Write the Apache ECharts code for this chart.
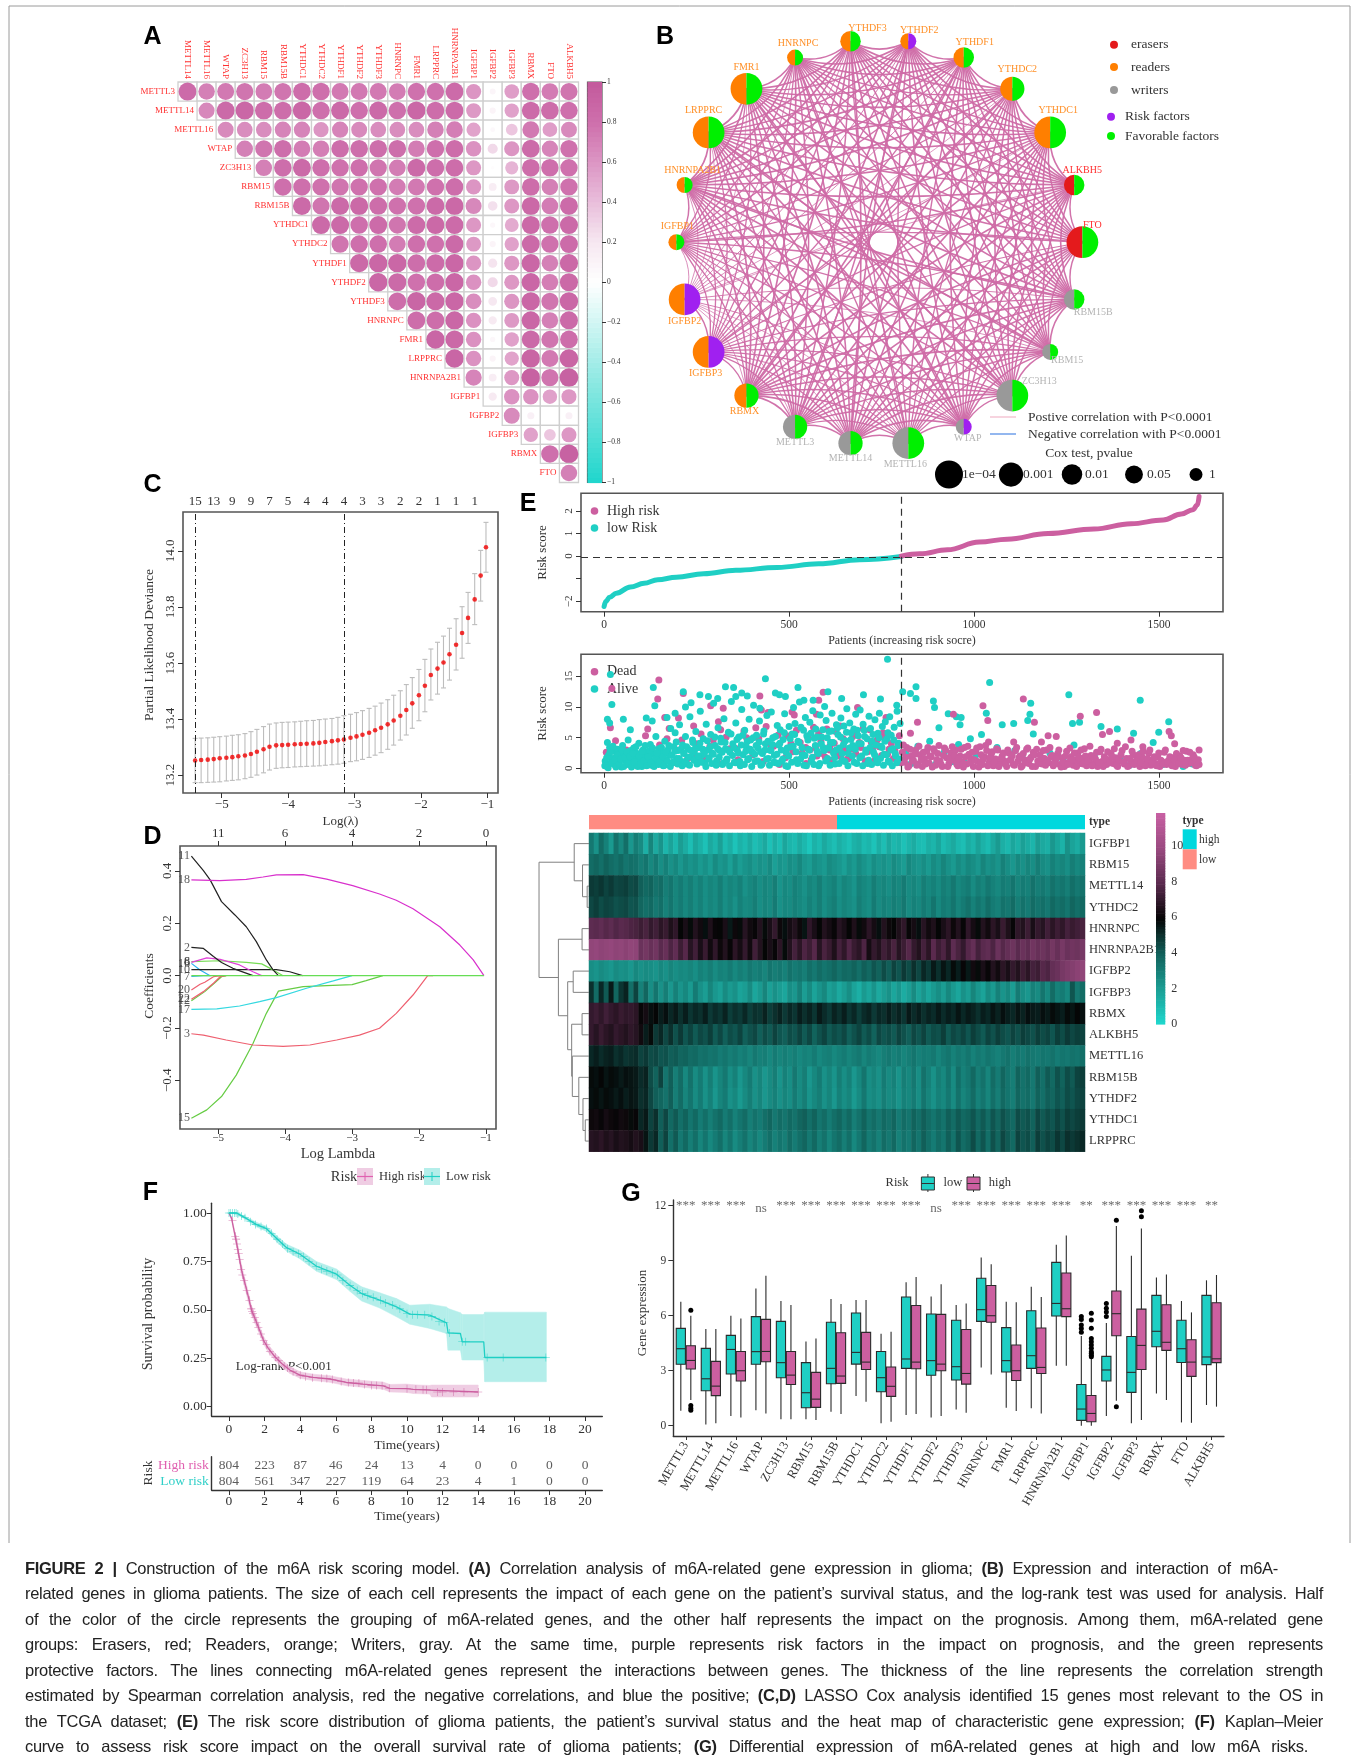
<!DOCTYPE html>
<html><head><meta charset="utf-8">
<style>
html,body{margin:0;padding:0;background:#fff}
#wrap{position:relative;width:1357px;height:1760px;overflow:hidden;filter:blur(.4px)}
#chart{position:absolute;left:0;top:0;width:1357px;height:1760px}
.cap{position:absolute;left:25px;font:16.5px/1 "Liberation Sans",sans-serif;letter-spacing:-.3px;color:#222;white-space:nowrap;text-align:justify;text-align-last:justify;transform:translateY(-50%)}
</style>
<script src="https://cdn.jsdelivr.net/npm/echarts@6/dist/echarts.min.js"></script>
</head><body><div id="wrap"><div id="chart"></div>
<div class="cap" style="top:1568px;width:1253px"><b>FIGURE 2 |</b> Construction of the m6A risk scoring model. <b>(A)</b> Correlation analysis of m6A-related gene expression in glioma; <b>(B)</b> Expression and interaction of m6A-</div>
<div class="cap" style="top:1593px;width:1298px">related genes in glioma patients. The size of each cell represents the impact of each gene on the patient’s survival status, and the log-rank test was used for analysis. Half</div>
<div class="cap" style="top:1619px;width:1298px">of the color of the circle represents the grouping of m6A-related genes, and the other half represents the impact on the prognosis. Among them, m6A-related gene</div>
<div class="cap" style="top:1644px;width:1298px">groups: Erasers, red; Readers, orange; Writers, gray. At the same time, purple represents risk factors in the impact on prognosis, and the green represents</div>
<div class="cap" style="top:1670px;width:1298px">protective factors. The lines connecting m6A-related genes represent the interactions between genes. The thickness of the line represents the correlation strength</div>
<div class="cap" style="top:1695px;width:1298px">estimated by Spearman correlation analysis, red the negative correlations, and blue the positive; <b>(C,D)</b> LASSO Cox analysis identified 15 genes most relevant to the OS in</div>
<div class="cap" style="top:1721px;width:1298px">the TCGA dataset; <b>(E)</b> The risk score distribution of glioma patients, the patient’s survival status and the heat map of characteristic gene expression; <b>(F)</b> Kaplan–Meier</div>
<div class="cap" style="top:1746px;width:1283px">curve to assess risk score impact on the overall survival rate of glioma patients; <b>(G)</b> Differential expression of m6A-related genes at high and low m6A risks.</div>
</div>
<script>
/* ===== DATA ===== */
const corrCols=['METTL14','METTL16','WTAP','ZC3H13','RBM15','RBM15B','YTHDC1','YTHDC2','YTHDF1','YTHDF2','YTHDF3','HNRNPC','FMR1','LRPPRC','HNRNPA2B1','IGFBP1','IGFBP2','IGFBP3','RBMX','FTO','ALKBH5'];
const corrRows=['METTL3','METTL14','METTL16','WTAP','ZC3H13','RBM15','RBM15B','YTHDC1','YTHDC2','YTHDF1','YTHDF2','YTHDF3','HNRNPC','FMR1','LRPPRC','HNRNPA2B1','IGFBP1','IGFBP2','IGFBP3','RBMX','FTO'];
const corrTri=[
[.84,.71,.75,.77,.73,.77,.82,.8,.75,.75,.75,.73,.79,.79,.84,.6,.09,.56,.8,.73,.77],
[.67,.85,.88,.82,.82,.88,.8,.85,.8,.85,.8,.88,.82,.84,.58,.1,.54,.84,.82,.8],
[.66,.64,.64,.69,.69,.6,.69,.66,.64,.64,.64,.71,.72,.53,.06,.36,.75,.56,.66],
[.71,.77,.81,.73,.72,.81,.81,.81,.81,.73,.8,.82,.62,.27,.6,.84,.69,.79],
[.71,.81,.85,.8,.79,.8,.77,.73,.85,.81,.82,.59,.03,.45,.82,.8,.79],
[.8,.8,.79,.77,.79,.79,.73,.75,.79,.81,.6,.16,.58,.82,.71,.79],
[.85,.77,.85,.86,.82,.79,.79,.85,.86,.67,.24,.59,.86,.73,.84],
[.85,.85,.8,.84,.77,.84,.86,.84,.59,.07,.5,.86,.8,.85],
[.77,.8,.8,.73,.8,.79,.85,.58,.1,.54,.85,.79,.84],
[.86,.88,.88,.81,.84,.88,.6,.22,.59,.88,.71,.86],
[.88,.85,.79,.82,.88,.62,.27,.59,.88,.72,.86],
[.82,.89,.86,.88,.64,.2,.6,.88,.77,.88],
[.82,.82,.88,.62,.18,.58,.88,.71,.85],
[.89,.86,.62,.07,.54,.85,.77,.82],
[.89,.62,.1,.53,.9,.75,.9],
[.69,.16,.59,.92,.77,.92],
[.18,.62,.62,.54,.59],
[.66,.13,0,.13],
[.54,.36,.59],
[.8,.92],
[.71]];
const ringGenes=['FTO','ALKBH5','YTHDC1','YTHDC2','YTHDF1','YTHDF2','YTHDF3','HNRNPC','FMR1','LRPPRC','HNRNPA2B1','IGFBP1','IGFBP2','IGFBP3','RBMX','METTL3','METTL14','METTL16','WTAP','ZC3H13','RBM15','RBM15B'];
const ringGroup=['erasers','erasers','readers','readers','readers','readers','readers','readers','readers','readers','readers','readers','readers','readers','readers','writers','writers','writers','writers','writers','writers','writers'];
const ringFactor=['fav','fav','fav','fav','fav','risk','fav','fav','fav','fav','fav','fav','risk','risk','fav','fav','fav','fav','risk','fav','fav','fav'];
const ringCoxP=[1e-5,.01,1e-5,.001,.01,.16,.01,.16,1e-5,1e-5,.16,.16,1e-5,1e-5,.001,.001,.001,1e-5,.16,1e-5,.16,.01];
const coxLegend=[['1e−04',1e-4],['0.001',1e-3],['0.01',.01],['0.05',.05],['1',1]];

const cvLambda=[-5.40,-5.31,-5.21,-5.12,-5.03,-4.93,-4.84,-4.75,-4.65,-4.56,-4.47,-4.37,-4.28,-4.18,-4.09,-4.00,-3.90,-3.81,-3.72,-3.62,-3.53,-3.44,-3.34,-3.25,-3.16,-3.06,-2.97,-2.88,-2.78,-2.69,-2.60,-2.50,-2.41,-2.31,-2.22,-2.13,-2.03,-1.94,-1.85,-1.75,-1.66,-1.57,-1.47,-1.38,-1.29,-1.19,-1.10,-1.02];
const cvMean=[13.252,13.254,13.255,13.257,13.260,13.262,13.264,13.267,13.270,13.275,13.283,13.292,13.301,13.306,13.307,13.308,13.310,13.311,13.312,13.313,13.315,13.318,13.321,13.324,13.327,13.333,13.338,13.344,13.351,13.360,13.369,13.381,13.395,13.412,13.432,13.456,13.485,13.519,13.557,13.580,13.602,13.631,13.665,13.707,13.761,13.827,13.912,14.013];
const cvUpper=[13.331,13.332,13.333,13.335,13.337,13.339,13.342,13.344,13.348,13.355,13.363,13.373,13.382,13.386,13.388,13.389,13.390,13.392,13.394,13.395,13.398,13.400,13.402,13.406,13.412,13.417,13.423,13.430,13.438,13.446,13.457,13.469,13.485,13.501,13.523,13.548,13.577,13.613,13.650,13.674,13.696,13.724,13.758,13.801,13.852,13.919,14.002,14.102];
const cvLower=[13.173,13.173,13.174,13.175,13.176,13.179,13.181,13.183,13.187,13.192,13.200,13.208,13.218,13.224,13.226,13.227,13.229,13.230,13.231,13.232,13.233,13.235,13.237,13.239,13.242,13.248,13.251,13.256,13.263,13.271,13.280,13.292,13.307,13.325,13.343,13.367,13.394,13.426,13.468,13.489,13.511,13.539,13.575,13.617,13.670,13.737,13.821,13.924];
const cvTopCounts=[15,13,9,9,7,5,4,4,4,3,3,2,2,1,1,1];
const cvLines=[-5.40,-3.16];

const path18=[[-5.40,.366],[-4.975,.363],[-4.58,.368],[-4.33,.377],[-4.13,.385],[-3.73,.386],[-3.38,.369],[-2.99,.344],[-2.59,.312],[-2.34,.288],[-2.09,.256],[-1.69,.187],[-1.39,.117],[-1.19,.06],[-1.03,0]];
const path11=[[-5.40,.457],[-5.22,.401],[-5.12,.366],[-4.95,.283],[-4.75,.232],[-4.58,.187],[-4.43,.13],[-4.28,.06],[-4.18,.022],[-4.10,0]];
const path2=[[-5.40,.108],[-5.22,.104],[-5.07,.073],[-4.95,.05],[-4.78,.028],[-4.48,0]];
const path10=[[-5.40,.023],[-4.13,.023],[-3.93,.015],[-3.74,0]];
const path6=[[-5.40,.051],[-5.17,.068],[-4.97,.062],[-4.68,.041],[-4.48,.015],[-4.35,0]];
const path8=[[-5.40,.054],[-4.97,.057],[-4.58,.051],[-4.35,.045],[-4.18,.022],[-4.03,0]];
const path16=[[-5.40,.047],[-5.27,.022],[-5.12,0]];
const path7=[[-5.40,-.003],[-5.22,0],[-5.10,0]];
const path20=[[-5.40,-.055],[-5.27,-.033],[-5.20,-.025],[-5.07,-.004],[-4.95,0]];
const path22=[[-5.40,-.09],[-5.22,-.061],[-5.07,-.029],[-4.97,-.004],[-4.88,0]];
const path12=[[-5.40,-.096],[-5.20,-.061],[-5.05,-.027],[-4.95,-.004],[-4.88,0]];
const path17=[[-5.40,-.129],[-5.02,-.127],[-4.68,-.116],[-4.38,-.099],[-4.13,-.084],[-3.68,-.048],[-3.28,-.02],[-3.0,0]];
const path3=[[-5.40,-.222],[-5.22,-.227],[-4.88,-.246],[-4.48,-.265],[-4.03,-.27],[-3.63,-.265],[-3.23,-.246],[-2.89,-.227],[-2.59,-.201],[-2.34,-.144],[-2.09,-.074],[-1.87,0],[-1.79,0]];
const path15=[[-5.40,-.545],[-5.17,-.513],[-4.95,-.462],[-4.73,-.38],[-4.48,-.259],[-4.28,-.144],[-4.10,-.059],[-3.73,-.042],[-3.38,-.038],[-3.0,-.034],[-2.79,-.019],[-2.54,0]];
const pathZero=[[-5.40,0],[-1.03,0]];

const riskLow=[[0,-2.23],[5,-2.0],[15,-1.82],[33,-1.64],[71,-1.37],[108,-1.2],[145,-1.05],[195,-.93],[269,-.78],[356,-.63],[468,-.5],[580,-.34],[691,-.16],[803,-.015]];
const riskHigh=[[803,0],[853,.1],[928,.28],[1014,.62],[1089,.75],[1200,1.0],[1324,1.2],[1424,1.43],[1511,1.6],[1560,1.86],[1591,2.05],[1604,2.27],[1608,2.64]];
const aliveTop=[[17,15.3],[21,10.4],[133,13.2],[137,10.2],[9,8],[15,7.4],[52,8],[71,6.3],[9,4.2],[114,8.2],[130,7.7],[170,8.3],[192,9],[214,12.5],[220,10],[235,10.7],[259,12],[282,11.7],[307,11.4],[328,13.3],[350,13.2],[356,11.7],[372,12.3],[387,11.8],[421,9.8],[436,14.6],[463,12.3],[474,12],[490,11.7],[524,13.2],[540,11.1],[565,11.1],[605,12.5],[642,11.4],[701,12],[747,11.3],[766,17.8],[791,10.3],[807,12.5],[828,12.2],[843,13.3],[843,11.4],[890,11],[893,9.9],[930,8.9],[952,8.4],[965,8.3],[962,7.1],[1042,14],[1033,9],[1076,7.1],[1107,7.3],[1153,10.6],[1151,8.8],[1145,7.8],[1256,12],[1266,7.3],[1285,7.5],[1449,11.1],[1526,7.6],[1343,6.8],[1387,6.4],[1431,5.7],[1499,5.9],[1484,4.2]];
const aliveMass=[[3,1.2],[8,.3],[12,2.1],[15,3.4],[18,.8],[22,1.6],[26,2.8],[30,.5],[33,1.9],[37,3.1],[40,1],[44,2.4],[47,.2],[50,3.7],[54,1.4],[58,2.2],[62,.6],[65,4.6],[68,1.1],[72,2.9],[76,.4],[80,3.3],[83,1.7],[87,2.5],[90,.9],[94,4.1],[98,1.3],[102,.3],[105,3],[109,2],[113,.7],[117,2.7],[121,1.5],[125,3.9],[128,.5],[132,2.3],[136,1.2],[140,5.2],[144,.8],[148,3.2],[152,1.8],[156,2.6],[160,.4],[164,4.4],[168,1.4],[172,3],[176,2.2],[180,6.5],[184,.9],[188,3.5],[192,5.8],[196,1.6],[200,2.9],[204,7.1],[208,1.1],[212,3.8],[216,2.4],[220,5.2],[224,.7],[228,3.1],[232,8.4],[236,1.9],[240,4.2],[244,2.7],[248,6],[252,1.3],[256,3.4],[260,9.3],[264,2.1],[268,4.8],[272,.9],[276,7.2],[280,3],[284,1.7],[288,5.5],[292,2.5],[296,10.6],[300,3.7],[304,1.2],[308,6.6],[312,2.9],[316,4.3],[320,.6],[324,8.1],[328,3.2],[332,1.5],[336,5.9],[340,2.6],[344,10.9],[348,4],[352,1],[356,7.4],[360,3],[364,5.1],[368,.4],[372,9.6],[376,2.2],[380,6.2],[384,3.6],[388,1.4],[392,8],[396,4.6],[400,2.7],[404,10.3],[408,1.1],[412,5.4],[416,3.3],[420,7.7],[424,.5],[428,2.4],[432,6.1],[436,4],[440,8.6],[444,1.6],[448,3],[452,9.2],[456,5],[460,2.1],[464,.9],[468,7],[472,3.8],[476,6.3],[480,1.2],[484,4.7],[488,8.9],[492,2.6],[496,.3],[500,6.8],[504,3.5],[508,5.6],[512,9.9],[516,7.3],[520,1.4],[524,4.4],[528,10.8],[532,6.7],[536,2.2],[540,.5],[544,8.3],[548,5.3],[552,3.1],[556,7.5],[560,1.1],[564,9.4],[568,4.9],[572,6.4],[576,2.8],[580,.4],[584,8.7],[588,5.1],[592,3.4],[596,10.1],[600,7.8],[604,1.6],[608,6],[612,4.2],[616,9],[620,2.5],[624,.7],[628,7.1],[632,5.5],[636,3.3],[640,8.2],[644,1.3],[648,6.9],[652,4.5],[656,9.7],[660,2.4],[664,7.4],[668,5.8],[672,3.7],[676,1],[680,8.8],[684,6.2],[688,4],[692,9.5],[696,2],[700,7.2],[704,5.2],[708,3],[712,.8],[716,8.5],[720,6.5],[724,4.4],[728,2.6],[732,7.9],[736,1.5],[740,5.7],[744,9],[748,3.6],[752,6.8],[756,2.3],[760,7.6],[764,4.8],[768,1.2],[772,8.4],[776,5.4],[780,3.2],[784,6.7],[788,2],[792,9.3],[796,4.1],[800,7.3],
[815,2.4],[830,.8],[848,3.6],[862,1.5],[880,4.4],[895,.6],[905,6.6],[920,2.7],[942,1.1],[958,3.9],[975,.9],[990,4.8],[1005,2.2],[1020,5.5],[1045,1.3],[1062,3.4],[1085,.7],[1110,2.9],[1130,1.7],[1160,5.6],[1175,.9],[1205,2.5],[1240,1.4],[1270,3.8],[1300,.8],[1325,2],[1360,1.1],[1395,1.8],[1420,.5],[1450,2.4],[1475,1],[1510,.6],[1540,1.6],[1565,.3],[1590,.7]];
const aliveBand=[[2,.4],[7,1.7],[11,.1],[16,2.6],[20,.9],[24,3.6],[28,1.3],[32,.2],[36,2.2],[41,.7],[45,1.5],[49,3],[53,.3],[57,1.8],[61,2.7],[66,.8],[70,1.9],[74,.2],[78,2.4],[82,1],[86,3.5],[91,.3],[95,2],[99,.7],[103,2.8],[107,1.2],[111,3.7],[115,.4],[119,1.9],[123,2.9],[127,.9],[131,3.3],[135,.3],[139,1.7],[143,2.5],[147,.6],[151,1.1],[155,3.4],[159,1.9],[163,.5],[167,2.7],[171,1.2],[175,3.7],[179,.3],[183,2.1],[187,1],[191,2.8],[195,4.3],[199,.7],[203,1.6],[207,3.1],[211,.4],[215,2.5],[219,1.1],[223,3.5],[227,1.8],[231,.5],[235,2.9],[239,4.6],[243,1.3],[247,3.3],[251,.7],[255,2],[259,4.1],[263,1],[267,3.1],[271,2.4],[275,.3],[279,4.5],[283,1.5],[287,3.5],[291,.8],[295,2.3],[299,5.1],[303,.5],[307,3.2],[311,1.8],[315,4.9],[319,2.6],[323,.9],[327,4.2],[331,1.3],[335,3],[339,.4],[343,5.6],[347,2.1],[351,3.4],[355,.9],[359,4.7],[363,2.5],[367,1.1],[371,3.8],[375,5.4],[379,.6],[383,2.8],[387,4.4],[391,1.6],[395,3.1],[399,.3],[403,5],[407,2.3],[411,3.7],[415,1.2],[419,4.3],[423,2.7],[427,.7],[431,5.6],[435,3],[439,1.5],[443,4.4],[447,.5],[451,2.9],[455,3.9],[459,1],[463,5.2],[467,2.3],[471,.8],[475,4.1],[479,3],[483,1.5],[487,5.8],[491,.4],[495,3.3],[499,2],[503,4.8],[507,1],[511,3.6],[515,5.5],[519,2.7],[523,.8],[527,4.2],[531,1.5],[535,3.4],[539,6.2],[543,2.1],[547,.4],[551,4.6],[555,3],[559,5.7],[563,1.8],[567,.6],[571,3.7],[575,5.1],[579,2.4],[583,.8],[587,4],[591,6.3],[595,2.9],[599,1.2],[603,5],[607,3.3],[611,.5],[615,6.1],[619,4.2],[623,1.7],[627,3],[631,6.6],[635,.8],[639,5.1],[643,2.4],[647,3.9],[651,1.1],[655,5.9],[659,.4],[663,3.3],[667,4.7],[671,2],[675,6.4],[679,3.1],[683,.8],[687,5.3],[691,1.7],[695,4],[699,.4],[703,6.2],[707,2.6],[711,4.8],[715,1.3],[719,3.4],[723,.6],[727,5.5],[731,2.2],[735,3.8],[739,.9],[743,5],[747,1.6],[751,3.4],[755,.5],[759,4.4],[763,2.2],[767,5.8],[771,1],[775,3],[779,.4],[783,4.6],[787,2.4],[791,.9],[795,3.7],[799,1.5]];
const deadTop=[[21,13],[148,14.4],[145,11.3],[17,6.6],[31,4.5],[112,5.3],[118,6.4],[164,8.3],[176,6.5],[201,8.2],[214,12.2],[242,6.9],[288,10.2],[322,9.8],[309,7.6],[421,11.8],[425,9.5],[443,9.1],[508,9.2],[514,8.7],[574,8.8],[592,12.4],[580,11.1],[685,9.9],[762,8.3],[847,7.5],[828,5.7],[944,8.8],[1024,10.2],[1037,7.8],[1133,11.3],[1163,7.5],[1287,8.5],[1331,9.1],[1366,6],[1347,5.5],[1527,6],[1533,5.3],[1542,4],[1608,3],[1200,5.3],[1222,5.2],[1182,4.3],[1107,4.3],[1039,4.3],[1424,4.6],[1387,4.1],[1456,3.5]];
const deadLeft=[[6,2.6],[35,1.1],[60,3],[96,2.2],[126,.6],[150,3.8],[186,.9],[210,4.6],[238,2],[262,5.6],[286,3.6],[310,.8],[330,5.1],[358,3.2],[378,6.1],[402,2.2],[418,4.8],[438,6.8],[458,3.6],[474,.6],[494,5.3],[510,2.7],[530,4.2],[546,.8],[556,3],[566,6.7],[586,4.4],[598,1.8],[610,3.6],[626,6],[634,2.2],[646,4.8],[658,1.5],[668,3.2],[682,5.5],[694,3.4],[706,1.2],[718,6.3],[726,3],[738,4.6],[750,2.1],[758,5],[770,3.1],[782,1.6],[794,3.7],[802,.9],[130,2.5],[155,1.2],[170,4.8],[195,3],[226,1.6],[250,4],[270,1.8],[295,4.6],[315,6.3],[340,3.2],[362,1.4],[385,5],[410,6.6],[430,1.1],[450,3.8],[470,5.4],[490,1.7],[505,4],[520,6.2],[535,2.5],[550,5.1],[560,1.4],[572,3.3],[580,5.7],[590,2.4],[602,6.4],[615,1.3],[622,4.1],[638,6.9],[650,3.1],[662,1.7],[672,5.2],[680,2.4],[690,4.2],[700,6.5],[712,2.7],[722,4.3],[733,1.4],[744,3.5],[754,5.8],[766,2.3],[776,4.1],[786,2.9],[798,5.3],[640,1.9],[610,3],[575,2],[545,3.4]];
const deadRight=[[806,2.6],[812,1],[818,3.4],[824,.4],[830,2],[836,1.3],[842,3],[848,.7],[854,2.2],[860,.3],[866,1.6],[872,2.8],[878,.9],[884,1.9],[890,3.2],[896,.5],[902,2.4],[908,1.2],[914,.3],[920,3.3],[926,1.7],[932,.8],[938,2.5],[944,1.3],[950,3],[956,.4],[962,2],[968,1],[974,3.4],[980,.7],[986,2.3],[992,1.5],[998,.3],[1004,2.8],[1010,1.1],[1016,3.5],[1022,.6],[1028,1.9],[1034,2.9],[1040,.9],[1046,2.2],[1052,.4],[1058,1.5],[1064,3],[1070,.8],[1076,2],[1082,1.2],[1088,.3],[1094,2.5],[1100,1.6],[1106,.6],[1112,2.9],[1118,1.1],[1124,2],[1130,.4],[1136,1.4],[1142,3.1],[1148,.8],[1154,1.8],[1160,2.6],[1166,.3],[1172,1.2],[1178,2.2],[1184,.7],[1190,1.6],[1196,3],[1202,.9],[1208,1.9],[1214,.4],[1220,1.3],[1226,2.4],[1232,.6],[1238,1.7],[1244,.3],[1250,2.8],[1256,1],[1262,1.9],[1268,.5],[1274,1.4],[1280,2.5],[1286,.8],[1292,1.6],[1298,3.2],[1304,.4],[1310,1.2],[1316,2.1],[1322,.7],[1328,1.5],[1334,.3],[1340,2.7],[1346,1.1],[1352,1.9],[1358,.6],[1364,1.4],[1370,2.4],[1376,.8],[1382,1.7],[1388,.3],[1394,1.2],[1400,2.9],[1406,.7],[1412,1.6],[1418,.4],[1424,1.1],[1430,2.2],[1436,.9],[1442,1.5],[1448,.3],[1454,1.9],[1460,.7],[1466,1.2],[1472,2.5],[1478,.5],[1484,1.4],[1490,.8],[1496,1.9],[1502,.3],[1508,1.1],[1514,2.6],[1520,.6],[1526,1.3],[1532,.9],[1538,1.7],[1544,.3],[1550,1.2],[1556,2],[1562,.6],[1568,1.3],[1574,2.8],[1580,.8],[1586,1.4],[1592,2.2],[1598,.5],[1604,1.1],[1608,.6]];
const deadBand=[[809,3.8],[815,1.8],[821,.2],[827,3.1],[833,1.2],[839,2.3],[845,.5],[851,3.6],[857,1.4],[863,2.6],[869,.7],[875,3.4],[881,2],[887,.2],[893,2.8],[899,1.4],[905,3.7],[911,.6],[917,2.1],[923,3],[929,.3],[935,1.5],[941,3.5],[947,2.1],[953,.7],[959,1.6],[965,3.1],[971,.2],[977,1.9],[983,3.6],[989,.9],[995,2.6],[1001,1.4],[1007,3.3],[1013,.2],[1019,2.2],[1025,1.5],[1031,3.7],[1037,.4],[1043,1.7],[1049,2.7],[1055,1],[1061,3.2],[1067,.3],[1073,1.6],[1079,2.5],[1085,.7],[1091,3],[1097,1.3],[1103,2.1],[1109,.5],[1115,3.4],[1121,1.7],[1127,.2],[1133,2.4],[1139,.9],[1145,3.3],[1151,1.5],[1157,.3],[1163,2.2],[1169,3.1],[1175,.8],[1181,1.7],[1187,2.9],[1193,.5],[1199,1.3],[1205,3.4],[1211,2.1],[1217,.7],[1223,1.7],[1229,3],[1235,.2],[1241,1],[1247,2],[1253,.6],[1259,3.3],[1265,1.4],[1271,2.5],[1277,.3],[1283,1.8],[1289,3],[1295,.7],[1301,2],[1307,1.2],[1313,3.6],[1319,.4],[1325,1.7],[1331,2.6],[1337,1],[1343,3.1],[1349,.3],[1355,1.5],[1361,2.7],[1367,.9],[1373,1.9],[1379,3.2],[1385,.5],[1391,1.4],[1397,2.2],[1403,1],[1409,3.5],[1415,.3],[1421,1.6],[1427,2.8],[1433,.6],[1439,1.3],[1445,2.2],[1451,.9],[1457,2.8],[1463,.4],[1469,1.6],[1475,3],[1481,1],[1487,1.9],[1493,.4],[1499,2.5],[1505,1.3],[1511,.7],[1517,3],[1523,1.1],[1529,1.9],[1535,.4],[1541,1.4],[1547,2.4],[1553,.8],[1559,1.7],[1565,2.9],[1571,.5],[1577,1.3],[1583,2.6],[1589,.9],[1595,1.8],[1601,.4],[1606,1.4]];

const heatGenes=['IGFBP1','RBM15','METTL14','YTHDC2','HNRNPC','HNRNPA2B1','IGFBP2','IGFBP3','RBMX','ALKBH5','METTL16','RBM15B','YTHDF2','YTHDC1','LRPPRC'];
/* expression ×10, read along each row in 100 patient groups */
const hIGFBP1=[32,24,36,29,21,34,27,35,22,30,26,14,28,16,23,12,18,11,20,15,9,17,13,8,16,12,19,10,14,7,13,10,15,9,12,16,8,14,9,17,12,10,15,11,6,13,10,16,12,9,14,11,8,13,15,10,12,7,14,9,16,11,13,8,12,15,10,9,14,12,17,10,13,16,11,9,15,12,18,13,10,16,21,14,11,17,13,19,15,12,20,16,14,22,17,13,24,18,15,21];
const hRBM15=[36,38,35,39,36,34,37,33,35,34,30,33,27,31,25,29,24,27,22,26,23,25,21,24,20,26,22,24,19,25,20,23,25,21,24,22,26,19,23,21,25,23,27,22,20,25,23,21,26,24,22,19,24,21,26,23,20,25,22,24,21,26,23,20,27,24,22,25,21,26,23,28,24,21,26,23,27,25,22,28,24,26,23,29,25,22,27,24,28,25,30,26,24,29,26,28,25,30,27,29];
const hMETTL14=[48,47,49,46,48,45,46,47,44,45,40,37,39,34,36,30,33,28,31,27,30,26,29,25,28,26,30,25,28,26,29,24,27,29,25,28,26,30,23,27,25,29,27,24,28,26,30,25,27,29,24,28,26,23,29,27,25,30,26,28,25,29,27,31,26,28,25,30,27,29,26,30,28,32,27,29,31,26,30,28,32,29,27,31,29,33,28,31,29,34,30,32,29,34,31,33,30,35,32,34];
const hYTHDC2=[45,47,44,46,45,43,44,45,42,43,38,35,37,32,35,29,33,28,31,27,30,26,29,25,28,26,30,25,28,24,29,26,27,30,25,28,26,31,24,27,26,29,27,25,29,26,30,25,28,30,25,28,26,24,30,27,25,31,26,29,27,30,28,32,26,29,27,31,28,33,27,31,29,33,28,31,34,29,33,30,35,31,29,34,32,36,30,34,31,36,33,35,32,37,34,36,33,38,35,37];
const hHNRNPC=[80,79,81,78,80,77,79,78,76,75,72,75,70,73,68,71,65,69,59,64,58,66,62,57,65,60,59,64,55,61,58,67,62,60,66,58,64,70,61,57,63,66,61,56,69,64,59,66,63,60,67,64,59,65,58,62,68,63,57,66,61,59,65,69,60,63,57,67,62,65,59,64,68,61,66,60,69,63,58,66,62,68,64,71,65,60,69,66,72,64,70,67,73,68,72,69,74,71,73,75];
const hHNRNPA2B1=[96,97,95,96,97,95,96,94,96,95,84,87,83,86,79,83,76,81,72,78,67,73,64,71,62,69,61,66,60,68,63,70,62,73,66,59,64,60,68,58,66,74,68,76,72,78,67,75,71,65,74,69,77,71,68,76,63,70,66,73,69,75,67,72,78,70,66,74,68,79,72,76,69,80,75,70,78,82,74,79,81,76,84,78,82,85,79,84,81,86,83,85,82,87,83,88,84,86,85,88];
const hIGFBP2=[25,23,26,24,22,26,24,25,22,27,24,26,25,23,27,24,28,25,27,26,28,25,29,27,30,26,29,28,31,27,30,28,32,29,31,28,33,30,32,29,34,31,33,30,35,32,36,33,35,38,34,37,36,39,35,40,37,42,39,44,40,46,42,48,44,50,45,52,48,55,50,56,52,58,54,60,55,62,58,64,60,66,62,68,64,70,66,72,68,74,72,78,76,82,84,88,90,92,94,96];
const hIGFBP3=[50,36,52,41,55,38,49,53,35,46,29,38,25,33,24,30,22,29,23,27,21,31,24,20,28,22,19,26,21,24,18,20,26,17,21,28,19,24,20,17,25,22,29,20,26,18,23,27,19,22,16,20,25,18,14,21,17,23,16,20,24,17,22,15,19,26,18,23,17,21,25,20,27,21,17,24,20,28,22,18,26,21,29,23,27,20,31,25,22,29,26,33,27,36,29,31,27,42,32,36];
const hRBMX=[70,72,69,73,70,68,71,69,70,68,60,63,57,59,54,57,52,55,50,54,49,52,50,54,48,51,49,53,47,50,48,52,47,50,49,53,47,50,53,48,52,49,54,50,53,49,55,51,48,53,50,54,49,52,47,51,53,48,52,50,54,50,53,49,55,51,54,50,53,51,55,51,54,52,56,52,55,53,50,54,52,56,53,57,54,52,56,53,57,55,54,57,55,58,56,54,58,56,59,57];
const hALKBH5=[70,67,71,68,66,70,68,66,69,67,62,54,58,48,52,45,50,43,48,42,46,41,45,43,47,41,45,40,44,42,46,40,43,45,40,44,41,46,42,40,44,42,46,41,45,39,43,46,41,44,42,45,40,43,46,41,44,39,45,42,44,41,46,43,40,45,42,46,41,44,43,47,41,45,43,46,42,47,44,41,46,43,47,44,42,46,43,47,45,43,47,44,46,42,47,44,48,45,47,46];
const hMETTL16=[52,54,51,53,54,50,52,49,50,51,46,48,44,45,42,43,40,41,38,39,36,37,34,35,33,34,31,33,30,32,29,31,28,32,29,30,27,31,28,30,28,30,27,29,28,31,27,29,30,27,29,31,28,30,32,28,31,29,27,30,32,29,31,28,30,33,29,31,30,32,28,31,33,29,32,30,33,29,32,30,33,31,29,32,34,30,33,31,34,32,31,33,32,34,31,33,32,34,33,35];
const hRBM15B=[58,57,59,56,58,57,55,57,56,55,51,53,44,39,46,33,40,30,36,27,34,26,31,24,30,23,28,32,25,29,22,27,31,24,28,22,26,30,23,29,25,32,26,30,22,27,31,24,28,23,30,25,29,22,27,33,25,28,24,31,26,29,23,30,27,32,25,34,29,24,30,27,33,26,35,29,32,37,30,34,28,36,31,38,33,30,39,34,37,32,40,35,41,37,43,39,44,41,46,47];
const hYTHDF2=[57,58,56,58,57,55,57,54,56,55,50,52,45,40,38,34,40,30,36,28,33,26,31,24,29,22,28,31,24,27,21,26,30,24,28,22,26,29,24,28,25,31,26,30,23,27,30,24,28,22,29,25,28,21,26,32,25,27,24,30,26,28,23,29,27,31,25,33,28,24,29,27,32,26,34,28,31,36,29,33,28,35,30,37,33,30,38,34,36,32,39,35,40,38,42,40,44,42,45,46];
const hYTHDC1=[61,62,60,63,61,60,62,61,58,60,52,55,46,50,40,45,37,41,35,39,33,37,31,35,30,34,37,31,35,29,33,36,30,34,31,35,38,32,36,33,37,34,38,40,35,39,33,36,31,35,38,33,37,30,34,39,33,36,32,37,34,38,31,36,33,39,35,40,36,33,37,34,40,36,41,37,39,42,37,41,36,42,38,43,40,37,44,41,43,39,45,41,44,42,46,43,47,45,47,48];
const hLRPPRC=[67,66,68,65,67,64,66,65,63,66,64,56,48,52,40,46,35,41,32,37,30,35,28,33,27,31,35,28,33,26,30,34,28,32,27,31,35,29,33,30,36,31,35,38,32,37,30,34,28,33,36,30,35,27,32,38,31,34,29,36,32,37,29,34,31,38,33,40,35,31,36,33,40,34,42,36,39,44,37,42,35,43,38,45,41,37,46,42,44,40,47,43,46,44,49,45,50,48,50,52];
const heatRows=[hIGFBP1,hRBM15,hMETTL14,hYTHDC2,hHNRNPC,hHNRNPA2B1,hIGFBP2,hIGFBP3,hRBMX,hALKBH5,hMETTL16,hRBM15B,hYTHDF2,hYTHDC1,hLRPPRC];
const typeCounts=[['low',804],['high',804]];
/* merges: row position A, row position B, height, height of child A, height of child B */
const dendroMerges=[[2,3,.036,0,0],[1,2.5,.127,0,.036],[0,1.75,.29,0,.127],[4,5,.136,0,0],[6,7,.31,0,0],[8,9,.136,0,0],[13,14,.073,0,0],[12,13.5,.118,0,.073],[11,12.75,.2,0,.118],[10,11.9,.327,0,.2],[8.5,10.95,.34,.136,.327],[6.5,9.7,.418,.31,.34],[4.5,8.1,.6,.136,.418],[.875,6.3,.98,.29,.6]];

/* t, S, upper, lower */
const kmHigh=[[0,1,1,1],[.15,.971,.98,.96],[.34,.885,.90,.87],[.52,.799,.82,.78],[.71,.704,.73,.68],[.9,.636,.66,.61],[1.09,.567,.59,.54],[1.27,.498,.52,.475],[1.46,.455,.48,.43],[1.65,.412,.435,.39],[1.93,.344,.365,.325],[2.21,.301,.32,.28],[2.58,.258,.277,.24],[2.96,.223,.242,.205],[3.42,.189,.207,.172],[3.99,.163,.18,.147],[4.73,.151,.168,.135],[5.67,.143,.16,.126],[6.6,.125,.143,.108],[7.54,.117,.135,.1],[8.66,.108,.127,.09],[9.04,.095,.115,.076],[9.97,.093,.117,.073],[10.35,.089,.113,.068],[11.28,.086,.11,.065],[11.38,.076,.112,.05],[14,.076,.112,.05]];
const kmLow=[[0,1,1,1],[.43,1,1,.997],[.99,.971,.979,.962],[1.55,.94,.952,.928],[2.11,.919,.931,.905],[2.68,.868,.883,.851],[3.24,.821,.838,.802],[3.99,.787,.808,.763],[4.92,.725,.749,.699],[6.04,.684,.711,.656],[6.79,.627,.658,.596],[7.45,.584,.619,.546],[8.47,.55,.588,.509],[9.41,.515,.558,.464],[10.16,.478,.524,.426],[11.28,.473,.529,.404],[12.22,.433,.515,.378],[12.31,.381,.507,.292],[13,.378,.485,.292],[13.1,.335,.476,.241],[14.31,.335,.476,.241],[14.37,.254,.488,.129],[17.83,.254,.488,.129]];
const censorHigh=[[.2,.96],[.35,.88],[.4,.865],[.45,.84],[.5,.81],[.55,.79],[.6,.76],[.68,.71],[.75,.68],[.85,.65],[1.0,.6],[1.15,.55],[1.25,.505],[1.3,.49],[1.35,.48],[1.45,.46],[1.55,.435],[1.65,.41],[1.8,.375],[1.95,.34],[2.1,.32],[2.3,.285],[2.6,.255],[2.8,.24],[3.1,.21],[3.3,.2],[3.6,.18],[4.0,.163],[4.3,.155],[4.7,.15],[5.2,.147],[5.5,.145],[5.8,.14],[6.3,.13],[6.7,.125],[7,.122],[7.3,.122],[7.6,.115],[8.0,.11],[8.3,.11],[8.6,.108],[9.0,.095],[10,.093],[10.5,.09],[10.9,.088],[11.1,.088],[11.7,.076],[12,.076],[12.6,.076],[13.2,.076],[14,.076]];
const censorLow=[[0,1],[.1,1],[.2,1],[.3,1],[.4,1],[.5,.995],[.7,.985],[.9,.975],[1.2,.955],[1.5,.94],[1.8,.93],[2.1,.92],[2.4,.895],[2.7,.865],[3,.84],[3.3,.815],[3.6,.8],[3.9,.79],[4.2,.775],[4.5,.75],[4.9,.725],[5.2,.71],[5.5,.7],[5.8,.69],[6.1,.68],[6.4,.65],[6.8,.625],[7.2,.6],[7.5,.585],[7.8,.575],[8.1,.565],[8.5,.55],[8.8,.535],[9.2,.525],[9.6,.505],[10,.48],[10.3,.475],[10.6,.475],[11,.475],[11.4,.465],[11.8,.44],[12.1,.435],[12.4,.38],[13.1,.335],[13.3,.335],[14.5,.254],[15.4,.254],[17.8,.254]];
const atRiskTimes=[0,2,4,6,8,10,12,14,16,18,20];
const atRiskHigh=[804,223,87,46,24,13,4,0,0,0,0];
const atRiskLow=[804,561,347,227,119,64,23,4,1,0,0];

const boxGenes=['METTL3','METTL14','METTL16','WTAP','ZC3H13','RBM15','RBM15B','YTHDC1','YTHDC2','YTHDF1','YTHDF2','YTHDF3','HNRNPC','FMR1','LRPPRC','HNRNPA2B1','IGFBP1','IGFBP2','IGFBP3','RBMX','FTO','ALKBH5'];
const boxSig=['***','***','***','ns','***','***','***','***','***','***','ns','***','***','***','***','***','**','***','***','***','***','**'];
/* min, Q1, median, Q3, max */
const boxLow=[[.82,3.35,4.2,5.31,6.76],[.07,1.91,2.56,4.22,5.27],[.53,2.82,4.16,4.93,6.0],[.85,3.35,4.04,5.95,7.49],[.35,2.62,3.44,5.69,6.8],[.35,.98,1.8,3.44,4.6],[.76,2.29,3.13,5.64,6.91],[1.62,3.36,4.0,6.15,6.85],[.13,1.85,2.62,4.05,5.02],[.58,3.13,3.64,7.02,7.82],[.45,2.75,3.55,6.09,7.05],[.89,2.49,3.22,5.75,6.58],[3.18,5.69,6.33,8.04,9.18],[.98,2.93,3.55,5.35,6.76],[.95,3.13,3.82,6.27,7.58],[3.27,5.98,6.67,8.91,9.87],[0,.29,.91,2.25,4.9],[.53,2.44,3.04,3.78,5.6],[.13,1.82,2.91,4.87,9.27],[1.76,4.31,5.15,7.11,8.09],[.18,3.45,4.2,5.75,6.8],[1.13,3.33,3.75,7.11,7.93]];
const boxHigh=[[1.4,3.09,3.56,4.36,6.0],[.13,1.64,2.16,3.51,5.27],[.45,2.44,3.0,4.05,5.85],[.67,3.49,4.05,5.8,8.18],[.36,2.25,2.76,4.05,6.58],[.31,1.0,1.45,2.91,4.76],[.64,2.31,2.71,5.07,6.64],[1.31,3.07,3.47,5.09,6.85],[.22,1.6,2.15,3.2,5.13],[.64,3.11,3.47,6.56,8.11],[.53,3.0,3.36,6.07,7.71],[.71,2.27,2.85,5.25,6.67],[2.8,5.64,6.0,7.65,8.8],[.8,2.47,3.0,4.4,6.73],[.67,2.85,3.18,5.33,7.02],[3.27,5.95,6.38,8.33,10.38],[0,.22,.67,1.65,3.7],[1.36,4.91,6.11,7.35,10.89],[.31,3.07,4.38,6.36,10.76],[1.4,4.11,4.55,6.6,8.25],[.16,2.69,3.47,4.69,6.18],[1.04,3.44,3.65,6.71,8.22]];
/* gene index, value */
const outLow=[[16,5.1],[16,5.3],[16,5.5],[16,5.8],[16,5.95],[17,5.95],[17,6.2],[17,6.4],[17,6.67]];
const outHigh=[[0,6.3],[0,.85],[0,.95],[0,1.1],[16,6.13],[16,5.76],[16,5.31],[16,4.76],[16,4.58],[16,4.4],[16,4.22],[16,4.04],[16,3.95],[16,3.85],[16,3.76],[17,11.2],[17,1.04],[18,11.73],[18,11.4]];

/* ===== STYLE ===== */
const PINK='#CC5FA0',TEAL='#1FCFC4',INK='#333';
const SERIF='"Liberation Serif",serif';
const hex=c=>[1,3,5].map(i=>parseInt(c.substr(i,2),16));
function ramp(stops,v){for(let i=1;i<stops.length;i++){if(v<=stops[i][0]||i===stops.length-1){const[a,ca]=stops[i-1],[b,cb]=stops[i];const t=Math.max(0,Math.min(1,(v-a)/(b-a)));const A=hex(ca),B=hex(cb);return 'rgb('+A.map((x,k)=>Math.round(x+(B[k]-x)*t)).join(',')+')';}}}
const corrStops=[[-1,'#1FD6CC'],[-.5,'#8CE8E2'],[0,'#FFFFFF'],[.2,'#F6E8F1'],[.4,'#E9BEDB'],[.6,'#DC95C3'],[.8,'#CE6FAC'],[1,'#C35A9C']];
const heatStopsList=['#1ED8CE','#1B9E94','#11615B','#050505','#5A2A4E','#9A4A80','#C860A3'];
const heatMax=11.85;
const heatStops=heatStopsList.map((c,i)=>[i/6*heatMax,c]);
const groupColor={erasers:'#E41A1C',readers:'#FF7F00',writers:'#999999'};
const labelColor={erasers:'#FF3030',readers:'#FF9028',writers:'#B4B4B4'};
const factorColor={risk:'#A020F0',fav:'#00F000'};
const coxSize=p=>13-3.75*Math.log10(p);
const minus=v=>String(v).replace('-','\u2212');

/* ===== BUILDERS ===== */
const grids=[],xAxes=[],yAxes=[],series=[],graphic=[];
function addGrid(l,t,r,b,border){grids.push({left:l,top:t,width:r-l,height:b-t,show:!!border,borderColor:'#555',borderWidth:border||0,backgroundColor:'transparent'});return grids.length-1;}
function vAxis(g,pos,min,max,ticks,o){o=o||{};return {type:'value',gridIndex:g,position:pos,min,max,inverse:!!o.inverse,show:o.hide?false:true,
 axisLine:{show:!!o.line,onZero:false,lineStyle:{color:INK,width:1.4}},
 axisTick:{show:ticks.length>0&&!o.noTick,customValues:ticks,length:o.tick||5,lineStyle:{color:INK,width:1}},
 axisLabel:{show:ticks.length>0&&!o.noLabel,customValues:ticks,fontSize:o.size||12,color:o.color||INK,rotate:o.rotate||0,margin:o.margin||6,formatter:o.fmt||minus,fontFamily:SERIF},
 splitLine:{show:false},name:o.name,nameLocation:'middle',nameGap:o.gap||30,nameTextStyle:{fontSize:o.nameSize||13,color:INK,fontFamily:SERIF}};}
function panel(g,xa,ya){xAxes.push(xa);yAxes.push(ya);return {x:xAxes.length-1,y:yAxes.length-1,g};}
function on(p,s){s.xAxisIndex=p.x;s.yAxisIndex=p.y;s.animation=false;series.push(s);return s;}
function T(x,y,text,o){o=o||{};graphic.push({type:'text',x,y,rotation:o.rot||0,silent:true,style:{text,fill:o.color||INK,fontSize:o.size||13,fontFamily:o.font||SERIF,fontWeight:o.weight||'normal',align:o.align||'left',verticalAlign:'middle',rich:o.rich}});}
function dot(x,y,r,color){graphic.push({type:'circle',silent:true,shape:{cx:x,cy:y,r},style:{fill:color}});}
function box(x,y,w,h,fill){graphic.push({type:'rect',silent:true,shape:{x,y,width:w,height:h},style:{fill}});}
function seg(x1,y1,x2,y2,color,w){graphic.push({type:'line',silent:true,shape:{x1,y1,x2,y2},style:{stroke:color,lineWidth:w||1}});}
function colorbar(l,t,r,b,min,max,ticks,stops,o){
 const g=addGrid(l,t,r,b,o.border||0);
 const p=panel(g,vAxis(g,'bottom',0,1,[],{hide:true}),vAxis(g,'right',min,max,ticks,{size:o.size,tick:o.tick,margin:o.margin,noTick:o.noTick,fmt:o.fmt}));
 const levels=[];const N=80;for(let i=0;i<N;i++)levels.push([0,min+i*(max-min)/N,min+(i+1)*(max-min)/N]);
 on(p,{type:'custom',silent:true,data:levels,encode:{x:0,y:1},renderItem:(ps,api)=>{const a=api.coord([0,api.value(1)]),c=api.coord([1,api.value(2)]);return {type:'rect',shape:{x:a[0],y:c[1],width:c[0]-a[0],height:a[1]-c[1]+.6},style:{fill:ramp(stops,(api.value(1)+api.value(2))/2)}};}});
}
function marks(p,rows,o){on(p,{type:'scatter',silent:true,symbolSize:1,itemStyle:{color:'transparent'},data:rows,z:o.z||5,label:{show:true,position:o.pos||'inside',distance:o.dist||1,color:o.color||INK,fontSize:o.size||12,fontFamily:SERIF,formatter:q=>q.value[2]}});}

/* ===== A: correlation ===== */
{
 const g=addGrid(178,82,578.5,482.5);
 const p=panel(g,
  {type:'category',gridIndex:g,position:'top',data:corrCols,axisLine:{show:false},axisTick:{show:false},axisLabel:{interval:0,rotate:90,fontSize:9,color:'#FF3030',margin:3,fontFamily:SERIF},splitLine:{show:false}},
  {type:'category',gridIndex:g,inverse:true,data:corrRows,axisLine:{show:false},axisTick:{show:false},axisLabel:{show:false},splitLine:{show:false}});
 const cells=[];corrTri.forEach((row,i)=>row.forEach((v,k)=>cells.push([i+k,i,v])));
 on(p,{type:'custom',silent:true,data:cells,encode:{x:0,y:1},renderItem:(ps,api)=>{
  const c=api.coord([api.value(0),api.value(1)]),s=api.size([1,1]),v=api.value(2);
  const kids=[{type:'rect',shape:{x:c[0]-s[0]/2,y:c[1]-s[1]/2,width:s[0],height:s[1]},style:{fill:'#fff',stroke:'#CFCFCF',lineWidth:1.3}},
   {type:'circle',shape:{cx:c[0],cy:c[1],r:9.8*Math.sqrt(Math.abs(v))},style:{fill:ramp(corrStops,v)}}];
  if(api.value(0)===api.value(1))kids.push({type:'text',style:{x:c[0]-s[0]/2-3,y:c[1],text:corrRows[api.value(1)],fill:'#FF3030',fontSize:9,fontFamily:SERIF,align:'right',verticalAlign:'middle'}});
  return {type:'group',children:kids};}});
 colorbar(587.5,82,602,482.5,-1,1,[-1,-.8,-.6,-.4,-.2,0,.2,.4,.6,.8,1],corrStops,{border:1.2,size:7.5,tick:4,margin:5,fmt:v=>minus(+v.toFixed(1))});
}

/* ===== B: network ===== */
const bPolar={center:[879.4,242.2],radius:203};
const lookup={};corrTri.forEach((row,i)=>row.forEach((v,k)=>{const a=corrRows[i],b=corrCols[i+k];lookup[a+'|'+b]=v;lookup[b+'|'+a]=v;}));
const bEdges=[];const nRing=ringGenes.length;
for(let i=0;i<nRing;i++)for(let j=i+1;j<nRing;j++){const r=lookup[ringGenes[i]+'|'+ringGenes[j]];if(r>.05)bEdges.push([1,i/nRing*360,1,j/nRing*360,r,j-i]);}
const bNodes=ringGenes.map((g,i)=>[1,i/nRing*360,i]);
const bOff=[[10,-17],[8,-15],[8,-22],[5,-19],[11,-15],[11,-11],[17,-13],[3,-14],[0,-21],[-5,-22],[8,-15],[1,-16],[0,22],[-3,21],[-2,16],[0,16],[0,15],[-3,21],[4,12],[27,-14],[17,8],[19,13]];
const bSeries=[{type:'custom',coordinateSystem:'polar',silent:true,animation:false,clip:false,data:bEdges,encode:{radius:0,angle:1},renderItem:(ps,api)=>{
   const a=api.coord([1,api.value(1)]),b=api.coord([1,api.value(3)]);const cx=ps.coordSys.cx,cy=ps.coordSys.cy,R=ps.coordSys.r;
   const dx=b[0]-a[0],dy=b[1]-a[1],len=Math.hypot(dx,dy);let nx=-dy/len,ny=dx/len;const mx=(a[0]+b[0])/2,my=(a[1]+b[1])/2;
   if(api.value(5)!==11&&nx*(cx-mx)+ny*(cy-my)<0){nx=-nx;ny=-ny;}
   const k=(.05+.26*(1-len/(2*R)))*len;
   return {type:'bezierCurve',shape:{x1:a[0],y1:a[1],x2:b[0],y2:b[1],cpx1:mx+nx*k,cpy1:my+ny*k},style:{stroke:'#CF6BA6',lineWidth:.6+1.2*api.value(4),fill:null,opacity:.95}};}},
  {type:'custom',coordinateSystem:'polar',silent:true,animation:false,clip:false,data:bNodes,encode:{radius:0,angle:1},z:3,renderItem:(ps,api)=>{
   const c=api.coord([1,api.value(1)]),i=api.value(2),r=coxSize(ringCoxP[i])/2;
   return {type:'group',children:[
    {type:'sector',shape:{cx:c[0],cy:c[1],r0:0,r,startAngle:Math.PI/2,endAngle:Math.PI*1.5},style:{fill:groupColor[ringGroup[i]]}},
    {type:'sector',shape:{cx:c[0],cy:c[1],r0:0,r,startAngle:-Math.PI/2,endAngle:Math.PI/2},style:{fill:factorColor[ringFactor[i]]}},
    {type:'text',style:{x:c[0]+bOff[i][0],y:c[1]+bOff[i][1],text:ringGenes[i],fill:labelColor[ringGroup[i]],fontSize:10,fontFamily:SERIF,align:'center',verticalAlign:'middle'}}]};}}];
{
 [['erasers',44.7,groupColor.erasers],['readers',67,groupColor.readers],['writers',90,groupColor.writers]].forEach(r=>{dot(1114,r[1],4,r[2]);T(1131,r[1],r[0],{size:13.5});});
 [['Risk factors',116.7,factorColor.risk],['Favorable factors',136,factorColor.fav]].forEach(r=>{dot(1111,r[1],4,r[2]);T(1125,r[1],r[0],{size:13.5});});
 seg(990,417,1016,417,'#F4C6D4',1.5);seg(990,434,1016,434,'#6F9FEA',1.5);
 T(1028,417,'Postive correlation with P<0.0001',{size:13.5});T(1028,434,'Negative correlation with P<0.0001',{size:13.5});
 T(1089,453,'Cox test, pvalue',{size:13.5,align:'center'});
 const lx=[949,1011,1072,1134,1196],tx=[962,1023,1085,1147,1209];
 coxLegend.forEach((c,i)=>{dot(lx[i],474.5,coxSize(c[1])/2,'#000');T(tx[i],474.5,c[0],{size:13.5});});
}

/* ===== C: cv curve ===== */
{
 const g=addGrid(183,512,498,793,1.6);
 const p=panel(g,vAxis(g,'bottom',-5.583,-.839,[-5,-4,-3,-2,-1],{size:13,margin:5,name:'Log(\u03BB)',gap:22,nameSize:13}),
  vAxis(g,'left',13.136,14.139,[13.2,13.4,13.6,13.8,14],{size:13,rotate:90,margin:6,fmt:v=>(+v).toFixed(1)}));
 T(149,645,'Partial Likelihood Deviance',{size:13.5,rot:Math.PI/2,align:'center'});
 const top=cvTopCounts.map((c,i)=>cvLambda[Math.min(i*3,47)]);
 const map={};top.forEach((t,i)=>map[t]=cvTopCounts[i]);
 xAxes.push(vAxis(g,'top',-5.583,-.839,top,{size:13,margin:4,noTick:true,fmt:v=>map[v]}));
 on(p,{type:'custom',silent:true,z:2,data:cvLambda.map((x,i)=>[x,cvLower[i],cvUpper[i]]),encode:{x:0,y:[1,2]},renderItem:(ps,api)=>{
  const a=api.coord([api.value(0),api.value(1)]),b=api.coord([api.value(0),api.value(2)]);const st={stroke:'#BDBDBD',lineWidth:1.1};
  return {type:'group',children:[{type:'line',shape:{x1:a[0],y1:a[1],x2:b[0],y2:b[1]},style:st},{type:'line',shape:{x1:a[0]-2.5,y1:a[1],x2:a[0]+2.5,y2:a[1]},style:st},{type:'line',shape:{x1:b[0]-2.5,y1:b[1],x2:b[0]+2.5,y2:b[1]},style:st}]};}});
 on(p,{type:'scatter',silent:true,z:4,symbolSize:4.6,itemStyle:{color:'#F00000'},data:cvLambda.map((x,i)=>[x,cvMean[i]]),
  markLine:{silent:true,symbol:'none',animation:false,label:{show:false},lineStyle:{color:'#222',type:[6,3,1,3],width:1},data:cvLines.map(x=>({xAxis:x}))}});
}

/* ===== D: coefficient paths ===== */
{
 const g=addGrid(180,846,496,1129,1.6);
 const p=panel(g,vAxis(g,'bottom',-5.57,-.85,[-5,-4,-3,-2,-1],{size:11,margin:4,name:'Log Lambda',gap:18,nameSize:14.5}),
  vAxis(g,'left',-.586,.4955,[-.4,-.2,0,.2,.4],{size:13,rotate:90,margin:6,fmt:v=>minus((+v).toFixed(1))}));
 T(149,986,'Coefficients',{size:13.5,rot:Math.PI/2,align:'center'});
 const m={'-5':11,'-4':6,'-3':4,'-2':2,'-1':0};
 xAxes.push(vAxis(g,'top',-5.57,-.85,[-5,-4,-3,-2,-1],{size:13,margin:6,fmt:v=>m[v]}));
 const paths=[[path15,'#66CC44','15'],[path3,'#EE6070','3'],[path17,'#33D8E0','17'],[path12,'#66CC44','12'],[path22,'#EE6070','22'],[path20,'#EE6070','20'],[path7,'#2BB0F0','7'],[path16,'#2BB0F0','16'],[path10,'#222222','10'],[path8,'#77DD55','8'],[path6,'#E040D8','6'],[path2,'#222222','2'],[path11,'#222222','11'],[path18,'#D830CC','18'],[pathZero,'#66DD55','']];
 paths.forEach(r=>on(p,{type:'line',silent:true,showSymbol:false,data:r[0],lineStyle:{color:r[1],width:1.2},clip:false,z:3}));
 marks(p,paths.filter(r=>r[2]).map(r=>[r[0][0][0],r[0][0][1],r[2]]),{pos:'left',size:12,dist:1,color:'#333'});
}

/* ===== E1: risk score ===== */
{
 const g=addGrid(581,493.3,1223,611.7,1.6);
 const p=panel(g,vAxis(g,'bottom',-62.4,1672.7,[0,500,1000,1500],{size:11.5,margin:7,name:'Patients (increasing risk socre)',gap:23,nameSize:12}),
  vAxis(g,'left',-2.46,2.78,[-2,-1,0,1,2],{size:11,rotate:90,margin:6,name:'Risk score',gap:32,nameSize:13,fmt:v=>v==-1?'':minus(v)}));
 on(p,{type:'line',silent:true,showSymbol:false,smooth:.4,smoothMonotone:'x',data:riskLow,lineStyle:{color:TEAL,width:5,cap:'round'},z:3});
 on(p,{type:'line',silent:true,showSymbol:false,smooth:.4,smoothMonotone:'x',data:riskHigh,lineStyle:{color:PINK,width:5,cap:'round'},z:3,
  markLine:{silent:true,symbol:'none',animation:false,label:{show:false},lineStyle:{color:'#333',type:[7,5],width:1.2},data:[{xAxis:803},{yAxis:-.05}]}});
 dot(594.5,511,3.8,PINK);T(607,511,'High risk',{size:14});dot(594.5,528,3.8,TEAL);T(607,528,'low Risk',{size:14});
}
/* ===== E2: survival status ===== */
{
 const g=addGrid(581,654.3,1223,772.7,1.6);
 const p=panel(g,vAxis(g,'bottom',-62.4,1672.7,[0,500,1000,1500],{size:11.5,margin:7,name:'Patients (increasing risk socre)',gap:23,nameSize:12}),
  vAxis(g,'left',-.72,18.6,[0,5,10,15],{size:11,rotate:90,margin:6,name:'Risk score',gap:32,nameSize:13}));
 const alive=aliveTop.concat(aliveMass,aliveBand);const dead=deadTop.concat(deadLeft,deadRight,deadBand);
 on(p,{type:'scatter',silent:true,symbolSize:7,itemStyle:{color:PINK,opacity:1},data:dead.filter(d=>d[0]<803),z:3});
 on(p,{type:'scatter',silent:true,symbolSize:7,itemStyle:{color:TEAL,opacity:1},data:alive,z:3});
 on(p,{type:'scatter',silent:true,symbolSize:7,itemStyle:{color:PINK,opacity:1},data:dead.filter(d=>d[0]>=803),z:3,
  markLine:{silent:true,symbol:'none',animation:false,z:5,label:{show:false},lineStyle:{color:'#333',type:[7,5],width:1.2},data:[{xAxis:803}]}});
 dot(594.5,671.7,3.8,PINK);T(607,671.7,'Dead',{size:14});dot(594.5,689,3.8,TEAL);T(607,689,'Alive',{size:14});
}
/* ===== E3: heat map ===== */
let heatSeriesIndex=0;
{
 const ga=addGrid(589,815,1085,829.3);
 const pa=panel(ga,vAxis(ga,'bottom',0,1608,[],{hide:true}),
  {type:'category',gridIndex:ga,position:'right',data:['type'],axisLine:{show:false},axisTick:{show:false},axisLabel:{fontSize:11.5,fontWeight:'bold',color:INK,margin:4,fontFamily:SERIF}});
 on(pa,{type:'bar',silent:true,stack:'t',barWidth:'100%',data:[typeCounts[0][1]],itemStyle:{color:'#FF8C82'}});
 on(pa,{type:'bar',silent:true,stack:'t',barWidth:'100%',data:[typeCounts[1][1]],itemStyle:{color:'#00D8DE'}});
 const g=addGrid(589,833,1085,1151.7);
 const cols=heatRows[0].map((_,i)=>i);
 const p=panel(g,{type:'category',gridIndex:g,data:cols,show:false},
  {type:'category',gridIndex:g,position:'right',inverse:true,data:heatGenes,axisLine:{show:false},axisTick:{show:false},axisLabel:{interval:0,fontSize:12.5,color:INK,margin:4,fontFamily:SERIF}});
 const data=[];heatRows.forEach((r,i)=>r.forEach((v,k)=>data.push([k,i,v/10])));
 on(p,{type:'heatmap',silent:true,data,progressive:0,itemStyle:{borderWidth:0}});
 heatSeriesIndex=series.length-1;
 colorbar(1156,813,1165.3,1024,0,heatMax,[0,2,4,6,8,10],heatStops,{size:12,margin:6,noTick:true});
 const gd=addGrid(538,833,589,1151.7);
 const pd=panel(gd,vAxis(gd,'bottom',0,1,[],{hide:true,inverse:true}),vAxis(gd,'left',-.5,14.5,[],{hide:true,inverse:true}));
 on(pd,{type:'custom',silent:true,data:dendroMerges,encode:{x:2,y:0},renderItem:(ps,api)=>{
  const a=api.value(0),b=api.value(1),h=api.value(2),ha=api.value(3),hb=api.value(4);
  const pts=[api.coord([ha,a]),api.coord([h,a]),api.coord([h,b]),api.coord([hb,b])];
  return {type:'polyline',shape:{points:pts},style:{stroke:'#808080',lineWidth:1,fill:null}};}});
 T(1193,821,'type',{size:11.5,weight:'bold',align:'center'});
 box(1182.7,829.3,14,20,'#00D8DE');box(1182.7,849.3,14,20,'#FF8C82');
 T(1199,840,'high',{size:11.5});T(1199,860,'low',{size:11.5});
}

/* ===== F: Kaplan-Meier ===== */
{
 const g=addGrid(211.7,1203.3,602.3,1416);
 const xt=atRiskTimes;
 const p=panel(g,vAxis(g,'bottom',-.97,20.97,xt,{line:true,size:13.5,margin:6,name:'Time(years)',gap:22,nameSize:13.5}),
  vAxis(g,'left',-.048,1.05,[0,.25,.5,.75,1],{line:true,size:13.5,margin:5,fmt:v=>(+v).toFixed(2)}));
 T(148,1314,'Survival probability',{size:14,rot:Math.PI/2,align:'center'});
 const band=(arr,color)=>on(p,{type:'custom',silent:true,z:1,data:arr.slice(0,-1).map((d,i)=>[d[0],d[2],d[3],arr[i+1][0],arr[i+1][2],arr[i+1][3]]),encode:{x:0,y:1},renderItem:(ps,api)=>{
   const A=api.coord([api.value(0),api.value(1)]),B=api.coord([api.value(0),api.value(2)]),C=api.coord([api.value(3),api.value(5)]),D=api.coord([api.value(3),api.value(4)]);
   return {type:'polygon',shape:{points:[A,D,C,B]},style:{fill:color,stroke:color,lineWidth:.5}};}});
 band(kmHigh,'#EFCDE3');band(kmLow,'#B4EEEA');
 const plus='path://M4.65,0h.7v4.65h4.65v.7h-4.65v4.65h-.7v-4.65h-4.65v-.7h4.65z';
 on(p,{type:'line',silent:true,showSymbol:false,data:kmHigh.map(d=>[d[0],d[1]]),lineStyle:{color:PINK,width:1.3},z:3});
 on(p,{type:'line',silent:true,showSymbol:false,data:kmLow.map(d=>[d[0],d[1]]),lineStyle:{color:TEAL,width:1.3},z:3});
 on(p,{type:'scatter',silent:true,symbol:plus,symbolSize:8,itemStyle:{color:PINK},data:censorHigh,z:4});
 on(p,{type:'scatter',silent:true,symbol:plus,symbolSize:8,itemStyle:{color:TEAL},data:censorLow,z:4});
 T(235.7,1367,'Log-rank {i|P}<0.001',{size:13,rich:{i:{fontStyle:'italic',fontSize:13,fontFamily:SERIF,fill:INK}}});
 /* number at risk */
 const gt=addGrid(211.7,1456.7,602.3,1490);
 const pt=panel(gt,vAxis(gt,'bottom',-.97,20.97,xt,{line:true,size:13.5,margin:4,name:'Time(years)',gap:19,nameSize:13.5}),
  {type:'category',gridIndex:gt,position:'left',inverse:true,data:['High risk','Low risk'],axisLine:{show:true,onZero:false,lineStyle:{color:INK,width:1.4}},axisTick:{show:false},axisLabel:{interval:0,fontSize:13.5,margin:3,fontFamily:SERIF,color:(v)=>v==='High risk'?'#E060B0':'#30D0C8'}});
 marks(pt,atRiskTimes.map((t,i)=>[t,0,atRiskHigh[i]]),{size:13.5});
 marks(pt,atRiskTimes.map((t,i)=>[t,1,atRiskLow[i]]),{size:13.5});
 T(148,1473,'Risk',{size:13.5,rot:Math.PI/2,align:'center'});
 /* legend between D and F */
 T(344,1177,'Risk',{size:14.5,align:'center'});
 box(357,1168,16,17,'#EFCDE3');seg(357,1176.5,373,1176.5,'#E060B0',1.2);seg(365,1172,365,1181,'#E060B0',1);
 T(379,1177,'High risk',{size:12.5});
 box(424,1168,16,17,'#B4EEEA');seg(424,1176.5,440,1176.5,TEAL,1.2);seg(432,1172,432,1181,TEAL,1);
 T(446,1177,'Low risk',{size:12.5});
}

/* ===== G: box plots ===== */
{
 const g=addGrid(673.3,1200,1224,1436);
 const p=panel(g,
  {type:'category',gridIndex:g,data:boxGenes,position:'bottom',axisLine:{show:true,onZero:false,lineStyle:{color:INK,width:1.4}},axisTick:{show:true,alignWithLabel:true,length:4,lineStyle:{color:INK}},axisLabel:{interval:0,rotate:60,fontSize:12.5,color:INK,margin:7,fontFamily:SERIF},boundaryGap:true},
  vAxis(g,'left',-.56,12.31,[0,3,6,9,12],{line:true,size:11.5,margin:7}));
 T(643,1313,'Gene expression',{size:13,rot:Math.PI/2,align:'center'});
 const boxes=(arr,color,shift)=>on(p,{type:'custom',silent:true,z:3,data:arr.map((d,i)=>[i].concat(d)),encode:{x:0,y:[1,2,3,4,5]},renderItem:(ps,api)=>{
   const i=api.value(0),Y=v=>api.coord([i,v])[1],x=api.coord([i,0])[0]+shift,w=4.6;const st={stroke:'#2B2B2B',lineWidth:1.1};
   return {type:'group',children:[{type:'line',shape:{x1:x,y1:Y(api.value(1)),x2:x,y2:Y(api.value(5))},style:st},
    {type:'rect',shape:{x:x-w,y:Y(api.value(4)),width:2*w,height:Y(api.value(2))-Y(api.value(4))},style:{fill:color,stroke:'#2B2B2B',lineWidth:1.1}},
    {type:'line',shape:{x1:x-w,y1:Y(api.value(3)),x2:x+w,y2:Y(api.value(3))},style:st}]};}});
 const outs=(arr,shift)=>on(p,{type:'custom',silent:true,z:4,data:arr,encode:{x:0,y:1},renderItem:(ps,api)=>{const c=api.coord([api.value(0),api.value(1)]);return {type:'circle',shape:{cx:c[0]+shift,cy:c[1],r:2.5},style:{fill:'#000'}};}});
 boxes(boxLow,TEAL,-5);boxes(boxHigh,PINK,5);outs(outLow,-5);outs(outHigh,5);
 marks(p,boxSig.map((s,i)=>[i,s==='ns'?11.85:12.02,s]),{size:13,color:'#444'});
 T(897,1183,'Risk',{size:12.5,align:'center'});
 [[921.4,'low',TEAL,943.6],[967,'high',PINK,988.7]].forEach(r=>{seg(r[0]+6.5,1174,r[0]+6.5,1192,'#333',1);box(r[0],1177,13,13,r[2]);seg(r[0],1177,r[0]+13,1177,'#333',1);seg(r[0],1190,r[0]+13,1190,'#333',1);seg(r[0],1177,r[0],1190,'#333',1);seg(r[0]+13,1177,r[0]+13,1190,'#333',1);seg(r[0],1183.5,r[0]+13,1183.5,'#333',1);T(r[3],1183,r[1],{size:12.5});});
}

/* panel letters and frame */
[['A',152.5,37],['B',665,37],['C',152.5,485],['D',152.5,837],['E',528,504],['F',150.5,1193],['G',631,1194]].forEach(r=>T(r[1],r[2],r[0],{size:25,weight:'bold',color:'#000',font:'"Liberation Sans",sans-serif',align:'center'}));
seg(9,6,1350,6,'#9A9A9A',1);seg(9,6,9,1543,'#9A9A9A',1);seg(1350,6,1350,1543,'#9A9A9A',1);

const chart=echarts.init(document.getElementById('chart'),null,{renderer:'canvas',width:1357,height:1760});
chart.setOption({animation:false,backgroundColor:'#fff',textStyle:{fontFamily:SERIF},
 grid:grids,xAxis:xAxes,yAxis:yAxes,
 polar:bPolar,radiusAxis:{min:0,max:1,show:false},angleAxis:{min:0,max:360,show:false,startAngle:0,clockwise:false},
 visualMap:{show:false,min:0,max:heatMax,seriesIndex:heatSeriesIndex+bSeries.length,inRange:{color:heatStopsList}},
 series:bSeries.concat(series),graphic:{elements:graphic}});
</script></body></html>
